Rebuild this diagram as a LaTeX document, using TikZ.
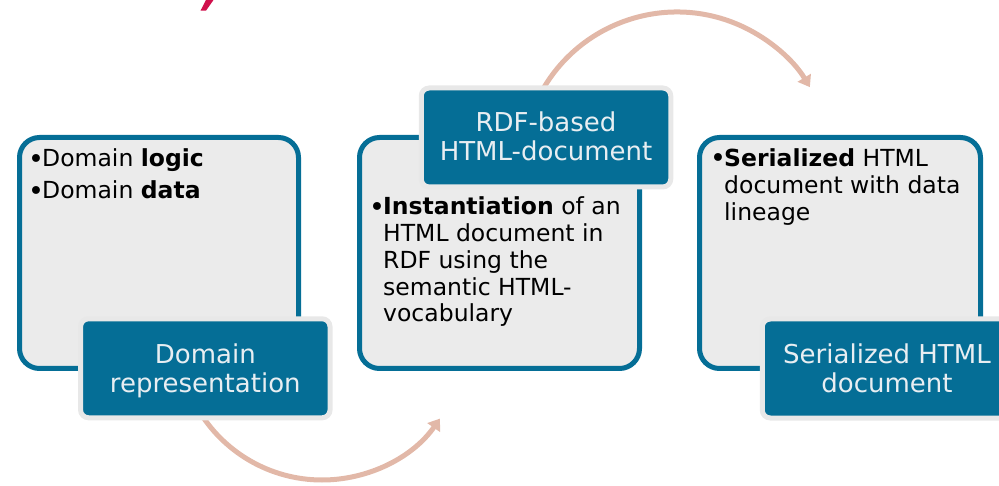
\documentclass[tikz,border=0pt]{standalone}
\usepackage{fontspec}
\setmainfont{DejaVu Sans}
\usetikzlibrary{arrows.meta}
\definecolor{boxblue}{RGB}{5,110,150}
\definecolor{boxfill}{RGB}{235,235,235}
\definecolor{framegray}{RGB}{232,232,232}
\definecolor{arrowc}{RGB}{226,184,168}
\definecolor{labeltext}{RGB}{232,238,242}
\definecolor{titlered}{RGB}{208,16,76}
\newcommand\mybul{\makebox[13pt][l]{\hspace*{-1pt}\raisebox{-1.2pt}{\fontsize{27}{27}\selectfont •}}}
\begin{document}
\begin{tikzpicture}[x=1pt,y=-1pt,
  bigbox/.style={draw=boxblue, line width=5pt, fill=boxfill, rounded corners=20pt,
    minimum width=#1, minimum height=231pt, inner sep=0pt},
  labelbox/.style={draw=framegray, line width=5pt, fill=boxblue, rounded corners=8pt,
    minimum width=249.5pt, minimum height=99pt, inner sep=0pt},
  labeltxt/.style={text=labeltext, align=center, inner sep=0pt,
    font=\fontsize{26}{29}\selectfont},
  bodytext/.style={inner sep=0pt, anchor=base west, text=black,
    font=\fontsize{23.5}{26.7}\selectfont},
  arrowline/.style={draw=arrowc, line width=5pt, -{Triangle[length=11pt,width=15pt]}}
]
\useasboundingbox (0,0) rectangle (999,486);
\clip (0,0) rectangle (999,486);
% title fragment
\fill[titlered] (206,0) -- (213.5,0) -- (206,10.7) -- (200.5,10.7) -- cycle;
% curved arrows
\coordinate (c1) at (322,336);
\coordinate (c2) at (677,167);
\draw[arrowline] (c1) ++(150:144) arc[start angle=150, end angle=35, radius=144];
\draw[arrowline] (c2) ++(205:155) arc[start angle=205, end angle=329, radius=155];
% content boxes
\node[bigbox=279pt] (b1) at (159,253) {};
\node[bigbox=280pt] (b2) at (499.5,253) {};
\node[bigbox=281pt] (b3) at (840,253) {};
% labels
\node[labelbox] (l1) at (205.3,368.3) {};
\node[labelbox] (l2) at (546,137.5) {};
\node[labelbox] (l3) at (887,368.5) {};
\node[labeltxt, yshift=-2.6pt] (l1t) at (l1) {Domain\\representation};
\node[labeltxt, yshift=1.5pt] (l2t) at (l2) {RDF-based\\HTML-document};
\node[labeltxt] (l3t) at (l3) {Serialized HTML\\document};
% body texts
\node[bodytext] (t1) at (29,167) {\begin{tabular}[t]{@{}l@{}l@{}}
  \mybul & Domain \textbf{logic}\\[5.3pt]
  \mybul & Domain \textbf{data}
  \end{tabular}};
\node[bodytext] (t2) at (370,215) {\begin{tabular}[t]{@{}l@{}l@{}}
  \mybul & \textbf{Instantiation} of an\\
         & HTML document in\\
         & RDF using the\\
         & semantic HTML-\\
         & vocabulary
  \end{tabular}};
\node[bodytext] (t3) at (711,166.7) {\begin{tabular}[t]{@{}l@{}l@{}}
  \mybul & \textbf{Serialized} HTML\\
         & document with data\\
         & lineage
  \end{tabular}};
\end{tikzpicture}
\end{document}
